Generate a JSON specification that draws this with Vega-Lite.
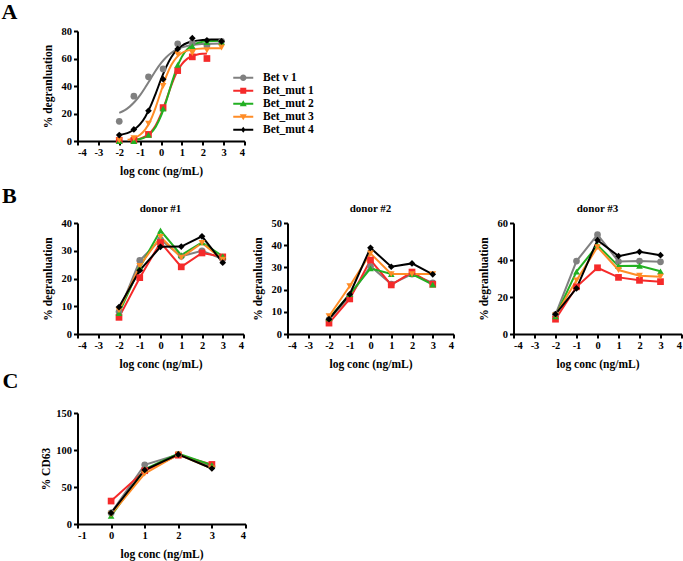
{
  "$schema": "https://vega.github.io/schema/vega-lite/v6.json",
  "background": "white",
  "padding": {"left": 1.5, "top": 1, "right": 0, "bottom": 2},
  "spacing": 0,
  "datasets": {
    "A_pts": [
      {"series": "Bet v 1", "x": -2, "y": 14.3}, {"series": "Bet v 1", "x": -1.3, "y": 32.6}, {"series": "Bet v 1", "x": -0.6, "y": 46.7}, {"series": "Bet v 1", "x": 0.1, "y": 52.4}, {"series": "Bet v 1", "x": 0.8, "y": 70.7}, {"series": "Bet v 1", "x": 1.5, "y": 71.5}, {"series": "Bet v 1", "x": 2.2, "y": 69.5}, {"series": "Bet v 1", "x": 2.9, "y": 72.5},
      {"series": "Bet_mut 1", "x": -2, "y": 0.5}, {"series": "Bet_mut 1", "x": -1.3, "y": 0.5}, {"series": "Bet_mut 1", "x": -0.6, "y": 4.8}, {"series": "Bet_mut 1", "x": 0.1, "y": 24.3}, {"series": "Bet_mut 1", "x": 0.8, "y": 51.2}, {"series": "Bet_mut 1", "x": 1.5, "y": 61.2}, {"series": "Bet_mut 1", "x": 2.2, "y": 60},
      {"series": "Bet_mut 2", "x": -2, "y": 0}, {"series": "Bet_mut 2", "x": -1.3, "y": 0}, {"series": "Bet_mut 2", "x": -0.6, "y": 4.5}, {"series": "Bet_mut 2", "x": 0.1, "y": 23.5}, {"series": "Bet_mut 2", "x": 0.8, "y": 55.3}, {"series": "Bet_mut 2", "x": 1.5, "y": 69}, {"series": "Bet_mut 2", "x": 2.2, "y": 72}, {"series": "Bet_mut 2", "x": 2.9, "y": 72},
      {"series": "Bet_mut 3", "x": -2, "y": 0.5}, {"series": "Bet_mut 3", "x": -1.3, "y": 2}, {"series": "Bet_mut 3", "x": -0.6, "y": 12.6}, {"series": "Bet_mut 3", "x": 0.1, "y": 40}, {"series": "Bet_mut 3", "x": 0.8, "y": 63}, {"series": "Bet_mut 3", "x": 1.5, "y": 64}, {"series": "Bet_mut 3", "x": 2.2, "y": 66}, {"series": "Bet_mut 3", "x": 2.9, "y": 68},
      {"series": "Bet_mut 4", "x": -2, "y": 4.3}, {"series": "Bet_mut 4", "x": -1.3, "y": 8.4}, {"series": "Bet_mut 4", "x": -0.6, "y": 22}, {"series": "Bet_mut 4", "x": 0.1, "y": 45}, {"series": "Bet_mut 4", "x": 0.8, "y": 67}, {"series": "Bet_mut 4", "x": 1.5, "y": 74.8}, {"series": "Bet_mut 4", "x": 2.2, "y": 73.2}, {"series": "Bet_mut 4", "x": 2.9, "y": 72.5}
    ],
    "A_fit": [
      {"series": "Bet v 1", "x": -2, "y": 20.5}, {"series": "Bet v 1", "x": -1.75, "y": 22.3}, {"series": "Bet v 1", "x": -1.5, "y": 25.0}, {"series": "Bet v 1", "x": -1.25, "y": 28.7}, {"series": "Bet v 1", "x": -1, "y": 33.4}, {"series": "Bet v 1", "x": -0.75, "y": 39.1}, {"series": "Bet v 1", "x": -0.5, "y": 45.2}, {"series": "Bet v 1", "x": -0.25, "y": 51.3}, {"series": "Bet v 1", "x": 0, "y": 56.6}, {"series": "Bet v 1", "x": 0.25, "y": 60.9}, {"series": "Bet v 1", "x": 0.5, "y": 64.2}, {"series": "Bet v 1", "x": 0.75, "y": 66.5}, {"series": "Bet v 1", "x": 1, "y": 68.1}, {"series": "Bet v 1", "x": 1.25, "y": 69.1}, {"series": "Bet v 1", "x": 1.5, "y": 69.8}, {"series": "Bet v 1", "x": 2, "y": 70.5}, {"series": "Bet v 1", "x": 2.5, "y": 70.8}, {"series": "Bet v 1", "x": 2.9, "y": 70.9},
      {"series": "Bet_mut 1", "x": -1.3, "y": 0.8}, {"series": "Bet_mut 1", "x": -1, "y": 1.7}, {"series": "Bet_mut 1", "x": -0.75, "y": 3.3}, {"series": "Bet_mut 1", "x": -0.5, "y": 6.3}, {"series": "Bet_mut 1", "x": -0.25, "y": 11.5}, {"series": "Bet_mut 1", "x": 0, "y": 19.5}, {"series": "Bet_mut 1", "x": 0.25, "y": 29.8}, {"series": "Bet_mut 1", "x": 0.5, "y": 40.6}, {"series": "Bet_mut 1", "x": 0.75, "y": 49.7}, {"series": "Bet_mut 1", "x": 1, "y": 55.9}, {"series": "Bet_mut 1", "x": 1.25, "y": 59.7}, {"series": "Bet_mut 1", "x": 1.5, "y": 61.8}, {"series": "Bet_mut 1", "x": 1.75, "y": 62.9}, {"series": "Bet_mut 1", "x": 2, "y": 63.4}, {"series": "Bet_mut 1", "x": 2.2, "y": 63.6},
      {"series": "Bet_mut 2", "x": -1.3, "y": 0.7}, {"series": "Bet_mut 2", "x": -1, "y": 1.5}, {"series": "Bet_mut 2", "x": -0.75, "y": 2.9}, {"series": "Bet_mut 2", "x": -0.5, "y": 5.6}, {"series": "Bet_mut 2", "x": -0.25, "y": 10.4}, {"series": "Bet_mut 2", "x": 0, "y": 18.2}, {"series": "Bet_mut 2", "x": 0.25, "y": 29.0}, {"series": "Bet_mut 2", "x": 0.5, "y": 41.5}, {"series": "Bet_mut 2", "x": 0.75, "y": 52.9}, {"series": "Bet_mut 2", "x": 1, "y": 61.3}, {"series": "Bet_mut 2", "x": 1.25, "y": 66.6}, {"series": "Bet_mut 2", "x": 1.5, "y": 69.7}, {"series": "Bet_mut 2", "x": 2, "y": 72.1}, {"series": "Bet_mut 2", "x": 2.5, "y": 72.8}, {"series": "Bet_mut 2", "x": 2.9, "y": 72.9},
      {"series": "Bet_mut 3", "x": -1.6, "y": 0.9}, {"series": "Bet_mut 3", "x": -1.5, "y": 1.2}, {"series": "Bet_mut 3", "x": -1.25, "y": 2.4}, {"series": "Bet_mut 3", "x": -1, "y": 4.6}, {"series": "Bet_mut 3", "x": -0.75, "y": 8.5}, {"series": "Bet_mut 3", "x": -0.5, "y": 15.1}, {"series": "Bet_mut 3", "x": -0.25, "y": 24.7}, {"series": "Bet_mut 3", "x": 0, "y": 36.1}, {"series": "Bet_mut 3", "x": 0.25, "y": 47.0}, {"series": "Bet_mut 3", "x": 0.5, "y": 55.4}, {"series": "Bet_mut 3", "x": 0.75, "y": 60.8}, {"series": "Bet_mut 3", "x": 1, "y": 64.0}, {"series": "Bet_mut 3", "x": 1.25, "y": 65.7}, {"series": "Bet_mut 3", "x": 1.5, "y": 66.6}, {"series": "Bet_mut 3", "x": 2, "y": 67.3}, {"series": "Bet_mut 3", "x": 2.5, "y": 67.45}, {"series": "Bet_mut 3", "x": 2.9, "y": 67.5},
      {"series": "Bet_mut 4", "x": -2, "y": 4.5}, {"series": "Bet_mut 4", "x": -1.75, "y": 5.2}, {"series": "Bet_mut 4", "x": -1.5, "y": 6.5}, {"series": "Bet_mut 4", "x": -1.25, "y": 8.7}, {"series": "Bet_mut 4", "x": -1, "y": 12.2}, {"series": "Bet_mut 4", "x": -0.75, "y": 17.7}, {"series": "Bet_mut 4", "x": -0.5, "y": 25.3}, {"series": "Bet_mut 4", "x": -0.25, "y": 34.7}, {"series": "Bet_mut 4", "x": 0, "y": 44.8}, {"series": "Bet_mut 4", "x": 0.25, "y": 53.9}, {"series": "Bet_mut 4", "x": 0.5, "y": 61.1}, {"series": "Bet_mut 4", "x": 0.75, "y": 66.1}, {"series": "Bet_mut 4", "x": 1, "y": 69.3}, {"series": "Bet_mut 4", "x": 1.25, "y": 71.3}, {"series": "Bet_mut 4", "x": 1.5, "y": 72.4}, {"series": "Bet_mut 4", "x": 2, "y": 73.5}, {"series": "Bet_mut 4", "x": 2.5, "y": 73.8}, {"series": "Bet_mut 4", "x": 2.9, "y": 73.9}
    ],
    "B": [
      {"donor": 1, "series": "Bet v 1", "x": -2, "y": 8}, {"donor": 1, "series": "Bet v 1", "x": -1, "y": 26.5}, {"donor": 1, "series": "Bet v 1", "x": 0, "y": 34}, {"donor": 1, "series": "Bet v 1", "x": 1, "y": 28}, {"donor": 1, "series": "Bet v 1", "x": 2, "y": 30}, {"donor": 1, "series": "Bet v 1", "x": 3, "y": 27},
      {"donor": 1, "series": "Bet_mut 1", "x": -2, "y": 6}, {"donor": 1, "series": "Bet_mut 1", "x": -1, "y": 20.3}, {"donor": 1, "series": "Bet_mut 1", "x": 0, "y": 33}, {"donor": 1, "series": "Bet_mut 1", "x": 1, "y": 24.2}, {"donor": 1, "series": "Bet_mut 1", "x": 2, "y": 29.2}, {"donor": 1, "series": "Bet_mut 1", "x": 3, "y": 27.8},
      {"donor": 1, "series": "Bet_mut 2", "x": -2, "y": 7.5}, {"donor": 1, "series": "Bet_mut 2", "x": -1, "y": 24}, {"donor": 1, "series": "Bet_mut 2", "x": 0, "y": 37.3}, {"donor": 1, "series": "Bet_mut 2", "x": 1, "y": 28.4}, {"donor": 1, "series": "Bet_mut 2", "x": 2, "y": 33}, {"donor": 1, "series": "Bet_mut 2", "x": 3, "y": 28},
      {"donor": 1, "series": "Bet_mut 3", "x": -2, "y": 8.5}, {"donor": 1, "series": "Bet_mut 3", "x": -1, "y": 24.5}, {"donor": 1, "series": "Bet_mut 3", "x": 0, "y": 35}, {"donor": 1, "series": "Bet_mut 3", "x": 1, "y": 27.5}, {"donor": 1, "series": "Bet_mut 3", "x": 2, "y": 32.8}, {"donor": 1, "series": "Bet_mut 3", "x": 3, "y": 26.8},
      {"donor": 1, "series": "Bet_mut 4", "x": -2, "y": 9.7}, {"donor": 1, "series": "Bet_mut 4", "x": -1, "y": 22.9}, {"donor": 1, "series": "Bet_mut 4", "x": 0, "y": 31.4}, {"donor": 1, "series": "Bet_mut 4", "x": 1, "y": 31.5}, {"donor": 1, "series": "Bet_mut 4", "x": 2, "y": 35.2}, {"donor": 1, "series": "Bet_mut 4", "x": 3, "y": 25.7},
      {"donor": 2, "series": "Bet v 1", "x": -2, "y": 6.5}, {"donor": 2, "series": "Bet v 1", "x": -1, "y": 17}, {"donor": 2, "series": "Bet v 1", "x": 0, "y": 30.5}, {"donor": 2, "series": "Bet v 1", "x": 1, "y": 22.5}, {"donor": 2, "series": "Bet v 1", "x": 2, "y": 27}, {"donor": 2, "series": "Bet v 1", "x": 3, "y": 23},
      {"donor": 2, "series": "Bet_mut 1", "x": -2, "y": 4.9}, {"donor": 2, "series": "Bet_mut 1", "x": -1, "y": 15.8}, {"donor": 2, "series": "Bet_mut 1", "x": 0, "y": 33.3}, {"donor": 2, "series": "Bet_mut 1", "x": 1, "y": 22.1}, {"donor": 2, "series": "Bet_mut 1", "x": 2, "y": 27.9}, {"donor": 2, "series": "Bet_mut 1", "x": 3, "y": 22.4},
      {"donor": 2, "series": "Bet_mut 2", "x": -2, "y": 7}, {"donor": 2, "series": "Bet_mut 2", "x": -1, "y": 18}, {"donor": 2, "series": "Bet_mut 2", "x": 0, "y": 29.6}, {"donor": 2, "series": "Bet_mut 2", "x": 1, "y": 27}, {"donor": 2, "series": "Bet_mut 2", "x": 2, "y": 27}, {"donor": 2, "series": "Bet_mut 2", "x": 3, "y": 22.2},
      {"donor": 2, "series": "Bet_mut 3", "x": -2, "y": 8}, {"donor": 2, "series": "Bet_mut 3", "x": -1, "y": 21.6}, {"donor": 2, "series": "Bet_mut 3", "x": 0, "y": 36.3}, {"donor": 2, "series": "Bet_mut 3", "x": 1, "y": 27}, {"donor": 2, "series": "Bet_mut 3", "x": 2, "y": 27}, {"donor": 2, "series": "Bet_mut 3", "x": 3, "y": 27},
      {"donor": 2, "series": "Bet_mut 4", "x": -2, "y": 6.7}, {"donor": 2, "series": "Bet_mut 4", "x": -1, "y": 17.9}, {"donor": 2, "series": "Bet_mut 4", "x": 0, "y": 38.8}, {"donor": 2, "series": "Bet_mut 4", "x": 1, "y": 30.3}, {"donor": 2, "series": "Bet_mut 4", "x": 2, "y": 31.8}, {"donor": 2, "series": "Bet_mut 4", "x": 3, "y": 26.9},
      {"donor": 3, "series": "Bet v 1", "x": -2, "y": 10.5}, {"donor": 3, "series": "Bet v 1", "x": -1, "y": 39.4}, {"donor": 3, "series": "Bet v 1", "x": 0, "y": 53.7}, {"donor": 3, "series": "Bet v 1", "x": 1, "y": 39.2}, {"donor": 3, "series": "Bet v 1", "x": 2, "y": 39.4}, {"donor": 3, "series": "Bet v 1", "x": 3, "y": 39},
      {"donor": 3, "series": "Bet_mut 1", "x": -2, "y": 8}, {"donor": 3, "series": "Bet_mut 1", "x": -1, "y": 25.5}, {"donor": 3, "series": "Bet_mut 1", "x": 0, "y": 35.8}, {"donor": 3, "series": "Bet_mut 1", "x": 1, "y": 30.6}, {"donor": 3, "series": "Bet_mut 1", "x": 2, "y": 29}, {"donor": 3, "series": "Bet_mut 1", "x": 3, "y": 28.3},
      {"donor": 3, "series": "Bet_mut 2", "x": -2, "y": 9.5}, {"donor": 3, "series": "Bet_mut 2", "x": -1, "y": 33.7}, {"donor": 3, "series": "Bet_mut 2", "x": 0, "y": 48}, {"donor": 3, "series": "Bet_mut 2", "x": 1, "y": 36.7}, {"donor": 3, "series": "Bet_mut 2", "x": 2, "y": 36.9}, {"donor": 3, "series": "Bet_mut 2", "x": 3, "y": 33.9},
      {"donor": 3, "series": "Bet_mut 3", "x": -2, "y": 10}, {"donor": 3, "series": "Bet_mut 3", "x": -1, "y": 29}, {"donor": 3, "series": "Bet_mut 3", "x": 0, "y": 47}, {"donor": 3, "series": "Bet_mut 3", "x": 1, "y": 34.6}, {"donor": 3, "series": "Bet_mut 3", "x": 2, "y": 31.5}, {"donor": 3, "series": "Bet_mut 3", "x": 3, "y": 31},
      {"donor": 3, "series": "Bet_mut 4", "x": -2, "y": 10.7}, {"donor": 3, "series": "Bet_mut 4", "x": -1, "y": 24.7}, {"donor": 3, "series": "Bet_mut 4", "x": 0, "y": 50.7}, {"donor": 3, "series": "Bet_mut 4", "x": 1, "y": 42.1}, {"donor": 3, "series": "Bet_mut 4", "x": 2, "y": 44.4}, {"donor": 3, "series": "Bet_mut 4", "x": 3, "y": 42.6}
    ],
    "C": [
      {"series": "Bet v 1", "x": 0, "y": 15}, {"series": "Bet v 1", "x": 1, "y": 80}, {"series": "Bet v 1", "x": 2, "y": 94}, {"series": "Bet v 1", "x": 3, "y": 78},
      {"series": "Bet_mut 1", "x": 0, "y": 31}, {"series": "Bet_mut 1", "x": 1, "y": 72}, {"series": "Bet_mut 1", "x": 2, "y": 93}, {"series": "Bet_mut 1", "x": 3, "y": 80.5},
      {"series": "Bet_mut 2", "x": 0, "y": 11}, {"series": "Bet_mut 2", "x": 1, "y": 74}, {"series": "Bet_mut 2", "x": 2, "y": 95}, {"series": "Bet_mut 2", "x": 3, "y": 79.5},
      {"series": "Bet_mut 3", "x": 0, "y": 13}, {"series": "Bet_mut 3", "x": 1, "y": 68}, {"series": "Bet_mut 3", "x": 2, "y": 94}, {"series": "Bet_mut 3", "x": 3, "y": 75},
      {"series": "Bet_mut 4", "x": 0, "y": 15}, {"series": "Bet_mut 4", "x": 1, "y": 73}, {"series": "Bet_mut 4", "x": 2, "y": 94}, {"series": "Bet_mut 4", "x": 3, "y": 75}
    ]
  },
  "vconcat": [
    {
      "vconcat": [
        {
          "title": {"text": "A", "anchor": "start", "frame": "group", "fontSize": 22, "dx": -76, "offset": 2},
          "width": 167,
          "height": 110,
          "encoding": {
            "x": {"field": "x", "type": "quantitative", "scale": {"domain": [-4, 4]}, "axis": {"values": [-4, -3, -2, -1, 0, 1, 2, 3, 4], "title": "log conc (ng/mL)", "labelExpr": "'' + datum.value"}},
            "y": {"field": "y", "type": "quantitative", "scale": {"domain": [0, 80]}, "axis": {"values": [0, 20, 40, 60, 80], "title": "% degranluation"}}
          },
          "layer": [
            {
              "data": {"name": "A_fit"},
              "mark": {"type": "line", "strokeWidth": 2, "interpolate": "monotone"},
              "encoding": {
                "color": {"field": "series", "type": "nominal", "scale": {"domain": ["Bet v 1", "Bet_mut 1", "Bet_mut 2", "Bet_mut 3", "Bet_mut 4"], "range": ["#808080", "#f52a2a", "#22b022", "#ff8c26", "#000000"]}, "legend": null}
              }
            },
            {
              "data": {"name": "A_pts"},
              "mark": {"type": "point", "filled": true, "opacity": 1, "size": 45},
              "encoding": {
                "color": {"field": "series", "type": "nominal", "scale": {"domain": ["Bet v 1", "Bet_mut 1", "Bet_mut 2", "Bet_mut 3", "Bet_mut 4"], "range": ["#808080", "#f52a2a", "#22b022", "#ff8c26", "#000000"]}, "legend": null},
                "shape": {"field": "series", "type": "nominal", "scale": {"domain": ["Bet v 1", "Bet_mut 1", "Bet_mut 2", "Bet_mut 3", "Bet_mut 4"], "range": ["circle", "square", "triangle-up", "triangle-down", "diamond"]}, "legend": null}
              }
            },
            {
              "data": {"name": "A_pts"},
              "transform": [{"filter": "false"}],
              "mark": {"type": "point", "filled": true, "opacity": 1, "strokeWidth": 0},
              "encoding": {
                "color": {"field": "series", "type": "nominal", "scale": {"domain": ["Bet v 1", "Bet_mut 1", "Bet_mut 2", "Bet_mut 3", "Bet_mut 4"], "range": ["#808080", "#f52a2a", "#22b022", "#ff8c26", "#000000"]},
                  "legend": {"title": null, "orient": "none", "legendX": 160, "legendY": 41, "symbolSize": 100, "symbolStrokeWidth": 0, "labelFontSize": 11.5, "labelFont": "Liberation Serif", "labelFontWeight": "bold", "labelColor": "black", "labelOffset": 14, "rowPadding": 0}},
                "shape": {"field": "series", "type": "nominal", "scale": {"domain": ["Bet v 1", "Bet_mut 1", "Bet_mut 2", "Bet_mut 3", "Bet_mut 4"], "range": [
                  "M-2,-0.2H2V0.2H-2Z M0.65,0A0.65,0.65 0 1,1 -0.65,0A0.65,0.65 0 1,1 0.65,0Z",
                  "M-2,-0.2H2V0.2H-2Z M-0.6,-0.6H0.6V0.6H-0.6Z",
                  "M-2,-0.2H2V0.2H-2Z M0,-0.7L0.7,0.5H-0.7Z",
                  "M-2,-0.2H2V0.2H-2Z M0,0.7L-0.7,-0.5H0.7Z",
                  "M-2,-0.2H2V0.2H-2Z M0,-0.6L0.45,0L0,0.6L-0.45,0Z"
                ]},
                  "legend": {"title": null, "orient": "none", "legendX": 160, "legendY": 41, "symbolSize": 100, "symbolStrokeWidth": 0, "labelFontSize": 11.5, "labelFont": "Liberation Serif", "labelFontWeight": "bold", "labelColor": "black", "labelOffset": 14, "rowPadding": 0}}
              }
            }
          ],
          "resolve": {"scale": {"shape": "independent", "color": "independent"}}
        },
        {
          "title": {"text": "B", "anchor": "start", "frame": "bounds", "fontSize": 22, "dx": -40, "offset": -5},
          "hconcat": [
            {
              "hconcat": [
                {
                  "title": {"text": "donor #1", "fontSize": 11, "offset": 4},
                  "width": 166, "height": 111,
                  "data": {"name": "B"},
                  "transform": [{"filter": "datum.donor == 1"}],
                  "encoding": {
                    "x": {"field": "x", "type": "quantitative", "scale": {"domain": [-4, 4]}, "axis": {"values": [-4, -3, -2, -1, 0, 1, 2, 3, 4], "title": "log conc (ng/mL)", "labelExpr": "'' + datum.value"}},
                    "y": {"field": "y", "type": "quantitative", "scale": {"domain": [0, 40]}, "axis": {"values": [0, 10, 20, 30, 40], "title": "% degranluation"}},
                    "color": {"field": "series", "type": "nominal", "scale": {"domain": ["Bet v 1", "Bet_mut 1", "Bet_mut 2", "Bet_mut 3", "Bet_mut 4"], "range": ["#808080", "#f52a2a", "#22b022", "#ff8c26", "#000000"]}, "legend": null}
                  },
                  "layer": [
                    {"mark": {"type": "line", "strokeWidth": 2}},
                    {"mark": {"type": "point", "filled": true, "opacity": 1, "size": 45}, "encoding": {"shape": {"field": "series", "type": "nominal", "scale": {"domain": ["Bet v 1", "Bet_mut 1", "Bet_mut 2", "Bet_mut 3", "Bet_mut 4"], "range": ["circle", "square", "triangle-up", "triangle-down", "diamond"]}, "legend": null}}}
                  ]
                },
                {
                  "title": {"text": "donor #2", "fontSize": 11, "offset": 4},
                  "width": 166, "height": 111,
                  "data": {"name": "B"},
                  "transform": [{"filter": "datum.donor == 2"}],
                  "encoding": {
                    "x": {"field": "x", "type": "quantitative", "scale": {"domain": [-4, 4]}, "axis": {"values": [-4, -3, -2, -1, 0, 1, 2, 3, 4], "title": "log conc (ng/mL)", "labelExpr": "'' + datum.value"}},
                    "y": {"field": "y", "type": "quantitative", "scale": {"domain": [0, 50]}, "axis": {"values": [0, 10, 20, 30, 40, 50], "title": "% degranluation"}},
                    "color": {"field": "series", "type": "nominal", "scale": {"domain": ["Bet v 1", "Bet_mut 1", "Bet_mut 2", "Bet_mut 3", "Bet_mut 4"], "range": ["#808080", "#f52a2a", "#22b022", "#ff8c26", "#000000"]}, "legend": null}
                  },
                  "layer": [
                    {"mark": {"type": "line", "strokeWidth": 2}},
                    {"mark": {"type": "point", "filled": true, "opacity": 1, "size": 45}, "encoding": {"shape": {"field": "series", "type": "nominal", "scale": {"domain": ["Bet v 1", "Bet_mut 1", "Bet_mut 2", "Bet_mut 3", "Bet_mut 4"], "range": ["circle", "square", "triangle-up", "triangle-down", "diamond"]}, "legend": null}}}
                  ]
                }
              ],
              "spacing": 7
            },
            {
              "title": {"text": "donor #3", "fontSize": 11, "offset": 4},
              "width": 168, "height": 111,
              "data": {"name": "B"},
              "transform": [{"filter": "datum.donor == 3"}],
              "encoding": {
                "x": {"field": "x", "type": "quantitative", "scale": {"domain": [-4, 4]}, "axis": {"values": [-4, -3, -2, -1, 0, 1, 2, 3, 4], "title": "log conc (ng/mL)", "labelExpr": "'' + datum.value"}},
                "y": {"field": "y", "type": "quantitative", "scale": {"domain": [0, 60]}, "axis": {"values": [0, 20, 40, 60], "title": "% degranluation"}},
                "color": {"field": "series", "type": "nominal", "scale": {"domain": ["Bet v 1", "Bet_mut 1", "Bet_mut 2", "Bet_mut 3", "Bet_mut 4"], "range": ["#808080", "#f52a2a", "#22b022", "#ff8c26", "#000000"]}, "legend": null}
              },
              "layer": [
                {"mark": {"type": "line", "strokeWidth": 2}},
                {"mark": {"type": "point", "filled": true, "opacity": 1, "size": 45}, "encoding": {"shape": {"field": "series", "type": "nominal", "scale": {"domain": ["Bet v 1", "Bet_mut 1", "Bet_mut 2", "Bet_mut 3", "Bet_mut 4"], "range": ["circle", "square", "triangle-up", "triangle-down", "diamond"]}, "legend": null}}}
              ]
            }
          ],
          "spacing": 23
        }
      ],
      "spacing": 8
    },
    {
      "title": {"text": "C", "anchor": "start", "frame": "group", "fontSize": 22, "dx": -75, "offset": 15},
      "width": 168, "height": 111,
      "data": {"name": "C"},
      "encoding": {
        "x": {"field": "x", "type": "quantitative", "scale": {"domain": [-1, 4]}, "axis": {"values": [-1, 0, 1, 2, 3, 4], "title": "log conc (ng/mL)", "labelExpr": "'' + datum.value"}},
        "y": {"field": "y", "type": "quantitative", "scale": {"domain": [0, 150]}, "axis": {"values": [0, 50, 100, 150], "title": "%  CD63", "titlePadding": 4}},
        "color": {"field": "series", "type": "nominal", "scale": {"domain": ["Bet v 1", "Bet_mut 1", "Bet_mut 2", "Bet_mut 3", "Bet_mut 4"], "range": ["#808080", "#f52a2a", "#22b022", "#ff8c26", "#000000"]}, "legend": null}
      },
      "layer": [
        {"mark": {"type": "line", "strokeWidth": 2}},
        {"mark": {"type": "point", "filled": true, "opacity": 1, "size": 45}, "encoding": {"shape": {"field": "series", "type": "nominal", "scale": {"domain": ["Bet v 1", "Bet_mut 1", "Bet_mut 2", "Bet_mut 3", "Bet_mut 4"], "range": ["square", "square", "triangle-up", "triangle-down", "diamond"]}, "legend": null}}}
      ]
    }
  ],
  "config": {
    "font": "Liberation Serif",
    "view": {"stroke": null},
    "axis": {"grid": false, "domainColor": "black", "domainWidth": 2, "tickColor": "black", "tickWidth": 2, "tickSize": 4, "labelFont": "Liberation Serif", "labelFontSize": 10.5, "labelFontWeight": "bold", "labelColor": "black", "labelPadding": 2, "titleFont": "Liberation Serif", "titleFontSize": 11.5, "titleFontWeight": "bold", "titleColor": "black", "titlePadding": 8},
    "title": {"font": "Liberation Serif", "fontWeight": "bold", "color": "black"},
    "legend": {"labelFont": "Liberation Serif"}
  }
}
